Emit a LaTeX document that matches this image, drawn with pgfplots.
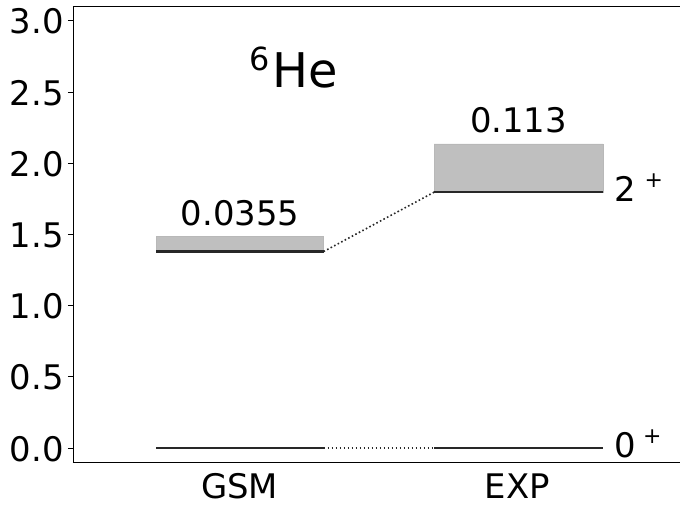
\documentclass[border=0pt]{standalone}
\usepackage{fontspec}
\setmainfont{DejaVu Sans}
\usepackage{pgfplots}
\pgfplotsset{compat=1.18}
\definecolor{boxgray}{RGB}{191,191,191}
\definecolor{levelc}{RGB}{40,40,40}
\begin{document}
\begin{tikzpicture}
\begin{axis}[
  at={(0,0)}, anchor=south west,
  scale only axis,
  width=607bp, height=456bp,
  xmin=-0.6, xmax=1.5835, ymin=-0.1, ymax=3.1,
  axis x line*=bottom, axis y line*=left,
  xtick={0,1}, xticklabels={GSM,EXP},
  ytick={0,0.5,1,1.5,2,2.5,3},
  yticklabel style={/pgf/number format/fixed,/pgf/number format/fixed zerofill,/pgf/number format/precision=1},
  /pgf/number format/assume math mode=true,
  tick align=outside,
  major tick length=5bp,
  xtick style={draw=none},
  ytick style={line width=0.8bp, black},
  axis line style={line width=0.8bp, black, -},
  tick label style={font=\fontsize{34}{40}\selectfont, inner sep=0pt},
  yticklabel style={anchor=base east, xshift=-4bp, yshift=-13bp},
  xticklabel style={anchor=base, yshift=-31bp},
  clip=false,
]
\draw[line width=0.8bp, black] (rel axis cs:0,1) -- (rel axis cs:1,1);
% boxes: from level to level + 3*Gamma
\addplot[fill=boxgray, draw=black!28, line width=0.5bp] coordinates {(-0.3,1.38) (0.302,1.38) (0.302,1.4865) (-0.3,1.4865) (-0.3,1.38)};
\addplot[fill=boxgray, draw=black!28, line width=0.5bp] coordinates {(0.7,1.797) (1.308,1.797) (1.308,2.136) (0.7,2.136) (0.7,1.797)};
% connectors
\addplot[levelc, line width=1.6bp, dash pattern=on 1.6bp off 2.4bp] coordinates {(0.302,1.38) (0.7,1.797)};
\addplot[levelc, line width=1.6bp, dash pattern=on 1.6bp off 2.4bp] coordinates {(0.302,0) (0.7,0)};
% levels
\addplot[levelc, line width=2.2bp] coordinates {(-0.3,1.38) (0.302,1.38)};
\addplot[levelc, line width=2.2bp] coordinates {(0.7,1.797) (1.308,1.797)};
\addplot[levelc, line width=2.2bp] coordinates {(-0.3,0) (0.302,0)};
\addplot[levelc, line width=2.2bp] coordinates {(0.7,0) (1.308,0)};
% texts
\node[anchor=base, inner sep=0pt, yshift=11bp, font=\fontsize{34}{40}\selectfont] at (axis cs:0.001,1.4865) {0.0355};
\node[anchor=base, inner sep=0pt, yshift=11.5bp, font=\fontsize{34}{40}\selectfont] at (axis cs:1.004,2.136) {0.113};
\node[anchor=base west, inner sep=0pt, yshift=-9bp, font=\fontsize{34}{40}\selectfont] at (axis cs:1.347,1.797) {2\hspace{9bp}\raisebox{13.5bp}{\fontsize{22}{22}\selectfont +}};
\node[anchor=base west, inner sep=0pt, yshift=-9bp, font=\fontsize{34}{40}\selectfont] at (axis cs:1.347,0) {0\hspace{7.5bp}\raisebox{13.5bp}{\fontsize{22}{22}\selectfont +}};
\node[anchor=base west, inner sep=0pt] at (axis cs:0.0345,2.535) {\raisebox{17bp}{\fontsize{32}{32}\selectfont 6}\hspace{2.5bp}\fontsize{48}{48}\selectfont He};
\end{axis}
\path (-73bp,-43.4bp) rectangle (607bp,462.6bp);
\end{tikzpicture}
\end{document}
